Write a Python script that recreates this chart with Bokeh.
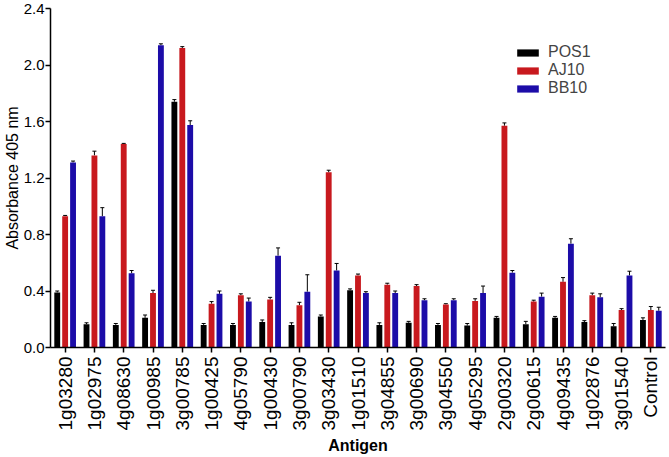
import math
from bokeh.plotting import figure
from bokeh.models import (ColumnDataSource, FactorRange, Range1d, Whisker, TeeHead,
                          Legend, LegendItem, FixedTicker, NumeralTickFormatter)
from bokeh.transform import dodge
from bokeh.embed import file_html
from bokeh.resources import INLINE

antigens = ["1g03280", "1g02975", "4g08630", "1g00985", "3g00785", "1g00425", "4g05790",
            "1g00430", "3g00790", "3g03430", "1g01510", "3g04855", "3g00690", "3g04550",
            "4g05295", "2g00320", "2g00615", "4g09435", "1g02876", "3g01540", "Control"]

pos1 = [0.39, 0.165, 0.16, 0.21, 1.74, 0.16, 0.16, 0.18, 0.16, 0.22,
        0.405, 0.16, 0.175, 0.16, 0.155, 0.21, 0.165, 0.21, 0.18, 0.15, 0.195]
aj10 = [0.93, 1.36, 1.44, 0.385, 2.12, 0.31, 0.37, 0.34, 0.30, 1.24,
        0.51, 0.445, 0.435, 0.305, 0.33, 1.57, 0.325, 0.465, 0.37, 0.265, 0.265]
bb10 = [1.31, 0.93, 0.525, 2.14, 1.575, 0.38, 0.325, 0.65, 0.395, 0.545,
        0.385, 0.385, 0.335, 0.335, 0.385, 0.53, 0.36, 0.735, 0.355, 0.51, 0.26]

pos1_err = [0.01, 0.01, 0.01, 0.02, 0.015, 0.01, 0.01, 0.015, 0.015, 0.01,
            0.01, 0.015, 0.01, 0.01, 0.015, 0.01, 0.02, 0.01, 0.01, 0.02, 0.015]
aj10_err = [0.005, 0.03, 0.005, 0.02, 0.01, 0.015, 0.01, 0.015, 0.02, 0.015,
            0.01, 0.01, 0.01, 0.005, 0.015, 0.02, 0.01, 0.03, 0.015, 0.01, 0.025]
bb10_err = [0.01, 0.06, 0.02, 0.01, 0.03, 0.02, 0.025, 0.055, 0.12, 0.05,
            0.01, 0.015, 0.01, 0.01, 0.05, 0.015, 0.025, 0.035, 0.025, 0.03, 0.025]

y_ticks = [0.0, 0.4, 0.8, 1.2, 1.6, 2.0, 2.4]

series = ["POS1", "AJ10", "BB10"]
colors = ["#000000", "#c8191e", "#1c0ca8"]
offsets = [-0.27, 0.0, 0.27]

p = figure(x_range=FactorRange(factors=antigens, range_padding=0),
           y_range=Range1d(0, 2.4),
           width=669, height=457, output_backend="svg", toolbar_location=None,
           min_border_left=0, min_border_right=4, min_border_top=8, min_border_bottom=0)
p.outline_line_color = None
p.xgrid.grid_line_color = None
p.ygrid.grid_line_color = None

font = "Liberation Sans"
vals = [pos1, aj10, bb10]
errs = [pos1_err, aj10_err, bb10_err]
items = []
for name, col, off, v, e in zip(series, colors, offsets, vals, errs):
    src = ColumnDataSource(dict(x=antigens, top=v, up=[a + b for a, b in zip(v, e)]))
    r = p.vbar(x=dodge("x", off, range=p.x_range), top="top", width=0.2, source=src,
               fill_color=col, line_color=None)
    w = Whisker(source=src, base=dodge("x", off, range=p.x_range), upper="up", lower="top",
                dimension="height", line_color="black", line_width=1,
                upper_head=TeeHead(size=4, line_color="black", line_width=1),
                lower_head=None)
    p.add_layout(w)
    items.append(LegendItem(label=name, renderers=[r]))

legend = Legend(items=items, location=(464, 250), border_line_color=None,
                background_fill_alpha=0, glyph_width=27, glyph_height=9,
                label_text_font=font, label_text_font_size="16px", label_height=16,
                spacing=0, padding=0, margin=0, label_standoff=7)
p.add_layout(legend, "center")

p.yaxis.ticker = FixedTicker(ticks=y_ticks)
p.yaxis.formatter = NumeralTickFormatter(format="0.0")
p.yaxis.axis_label = "Absorbance 405 nm"
p.xaxis.axis_label = "Antigen"
p.xaxis.major_label_orientation = math.pi / 2

for ax in (p.xaxis[0], p.yaxis[0]):
    ax.axis_line_width = 1.5
    ax.axis_line_color = "black"
    ax.major_tick_line_color = "black"
    ax.major_tick_line_width = 1.5
    ax.major_tick_in = 0
    ax.major_tick_out = 5
    ax.minor_tick_line_color = None
    ax.major_label_text_font = font
    ax.major_label_text_color = "black"
    ax.axis_label_text_font = font
    ax.axis_label_text_color = "black"

p.yaxis.major_label_text_font_size = "15px"
p.yaxis.major_tick_out = 5
p.yaxis.major_label_standoff = 1
p.yaxis.axis_label_standoff = 0
p.xaxis.major_label_text_font_size = "19px"
p.xaxis.major_label_standoff = 4
p.xaxis.axis_label_standoff = 4
p.yaxis.axis_label_text_font_size = "16px"
p.yaxis.axis_label_text_font_style = "normal"
p.xaxis.axis_label_text_font_size = "16px"
p.xaxis.axis_label_text_font_style = "bold"

open("out.html", "w").write(file_html(p, INLINE))
